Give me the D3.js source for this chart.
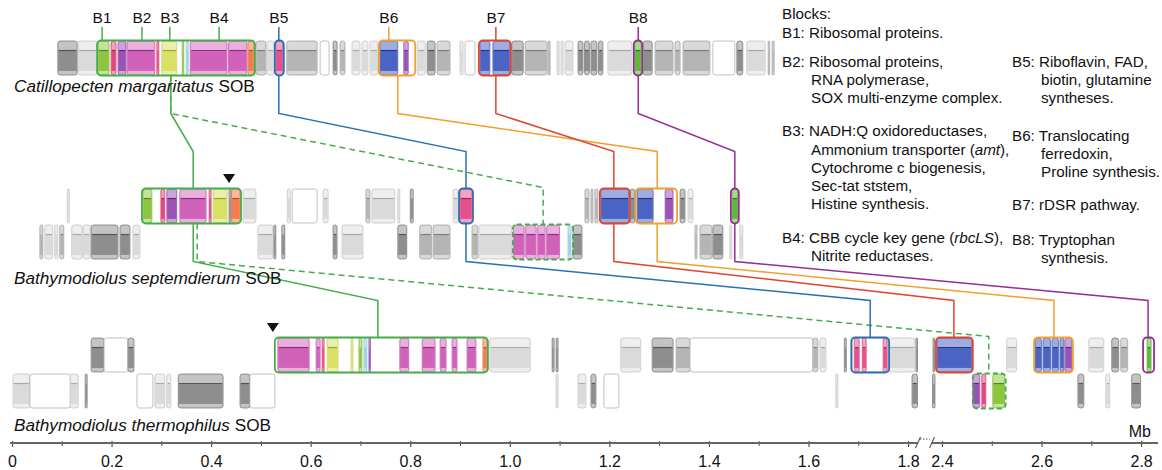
<!DOCTYPE html>
<html><head><meta charset="utf-8">
<script src="https://cdn.jsdelivr.net/npm/d3@7"></script>
<style>
body{margin:0;background:#fff;}
svg{display:block;font-family:"Liberation Sans",Arial,sans-serif;}
</style></head><body>
<svg id="c" width="1162" height="470"></svg>
<script>
// ---------------- DATA ----------------
const genomeItalic = ["Catillopecten margaritatus", "Bathymodiolus septemdierum", "Bathymodiolus thermophilus"];
const genomeSuffix = [" SOB", " SOB", " SOB"];

// [start Mb, end Mb, row (0 upper / 1 lower), colour key]
const blocksCM = [
 [0.092,0.131,0,"g1"],[0.133,0.171,0,"g3"],[0.173,0.195,0,"green"],[0.199,0.209,0,"red"],
 [0.213,0.229,0,"purple"],[0.231,0.287,0,"magenta"],[0.291,0.295,0,"red"],[0.301,0.331,0,"yellow"],
 [0.342,0.345,0,"green"],[0.350,0.354,0,"lblue"],[0.358,0.432,0,"magenta"],[0.435,0.472,0,"magenta"],
 [0.474,0.486,0,"orange"],[0.490,0.510,0,"g2"],[0.512,0.526,0,"g3"],[0.530,0.544,0,"pink"],
 [0.552,0.613,0,"g2"],[0.619,0.637,0,"w"],[0.645,0.653,0,"g1"],[0.659,0.669,0,"g2"],
 [0.683,0.699,0,"g3"],[0.703,0.715,0,"g3"],[0.719,0.735,0,"g3"],[0.739,0.775,0,"blue"],
 [0.787,0.796,0,"purple"],[0.814,0.830,0,"g3"],[0.834,0.850,0,"g1"],[0.854,0.880,0,"g2"],
 [0.900,0.906,0,"g3"],[0.910,0.930,0,"w"],[0.940,0.960,0,"blue"],[0.966,1.000,0,"blue"],
 [1.004,1.027,0,"g1"],[1.031,1.075,0,"g2"],[1.077,1.081,0,"g2"],[1.095,1.099,0,"g3"],
 [1.103,1.107,0,"g3"],[1.111,1.127,0,"g3"],[1.137,1.147,0,"g1"],[1.150,1.160,0,"g1"],
 [1.163,1.175,0,"g1"],[1.178,1.187,0,"g1"],[1.197,1.245,0,"g3"],[1.251,1.264,0,"green2"],
 [1.268,1.286,0,"g1"],[1.292,1.328,0,"g2"],[1.332,1.342,0,"g2"],[1.348,1.402,0,"g2"],
 [1.408,1.452,0,"w"],[1.456,1.468,0,"g1"],[1.476,1.513,0,"g3"],[1.519,1.522,0,"g2"],[1.527,1.531,0,"g2"]
];
const blocksBS = [
 [0.111,0.115,0,"g3"],[0.263,0.281,0,"green"],[0.299,0.307,0,"red"],[0.311,0.331,0,"purple"],
 [0.337,0.390,0,"magenta"],[0.396,0.400,0,"red"],[0.404,0.432,0,"yellow"],[0.436,0.440,0,"g1"],
 [0.441,0.458,0,"orange"],[0.464,0.490,0,"g3"],[0.553,0.559,0,"g3"],[0.563,0.613,0,"w"],
 [0.625,0.635,0,"g3"],[0.711,0.719,0,"g2"],[0.723,0.769,0,"g3"],[0.775,0.779,0,"g3"],
 [0.800,0.806,0,"g1"],[0.886,0.896,0,"g3"],[0.900,0.924,0,"pink"],[1.151,1.159,0,"g2"],
 [1.163,1.167,0,"g2"],[1.171,1.177,0,"g2"],[1.183,1.239,0,"blue"],[1.242,1.251,0,"g1"],
 [1.256,1.288,0,"blue"],[1.312,1.328,0,"purple"],[1.342,1.352,0,"g1"],[1.358,1.368,0,"g3"],
 [1.446,1.458,0,"green2"],
 [0.056,0.062,1,"g2"],[0.066,0.082,1,"g3"],[0.086,0.092,1,"g3"],[0.096,0.104,1,"g2"],
 [0.120,0.141,1,"g3"],[0.143,0.157,1,"g3"],[0.159,0.213,1,"g1"],[0.217,0.237,1,"g1"],
 [0.243,0.257,1,"g3"],[0.494,0.524,1,"g3"],[0.526,0.530,1,"g1"],[0.542,0.548,1,"g1"],
 [0.645,0.653,1,"g1"],[0.663,0.705,1,"g3"],[0.775,0.793,1,"g1"],[0.819,0.843,1,"g2"],
 [0.846,0.880,1,"g2"],[0.924,0.936,1,"g2"],[0.938,1.004,1,"g3"],[1.007,1.029,1,"magenta"],
 [1.032,1.053,1,"magenta"],[1.056,1.071,1,"magenta"],[1.074,1.100,1,"magenta"],[1.117,1.123,1,"lblue"],
 [1.127,1.145,1,"g1"],[1.372,1.376,1,"g2"],[1.382,1.406,1,"g2"],[1.408,1.428,1,"g1"],
 [1.442,1.446,1,"g3"],[1.462,1.468,1,"g3"]
];
const blocksBT = [
 [0.159,0.185,0,"g1"],[0.185,0.233,0,"w"],[0.233,0.245,0,"g1"],[0.534,0.597,0,"magenta"],
 [0.611,0.619,0,"magenta"],[0.623,0.627,0,"red"],[0.633,0.655,0,"yellow"],[0.681,0.685,0,"yellow"],
 [0.697,0.703,0,"green"],[0.707,0.713,0,"lblue"],[0.717,0.720,0,"purple"],[0.779,0.797,0,"magenta"],
 [0.824,0.850,0,"magenta"],[0.860,0.872,0,"magenta"],[0.884,0.894,0,"magenta"],[0.914,0.932,0,"magenta"],
 [0.946,0.954,0,"orange"],[0.960,1.041,0,"g3"],[1.085,1.089,0,"g1"],[1.093,1.097,0,"g1"],
 [1.223,1.263,0,"g3"],[1.286,1.328,0,"g1"],[1.334,1.362,0,"g2"],[1.362,1.609,0,"w"],
 [1.609,1.619,0,"g2"],[1.623,1.635,0,"g3"],[1.672,1.676,0,"g1"],[1.688,1.760,0,"w"],
 [1.692,1.702,0,"pink"],[1.708,1.716,0,"pink"],[1.750,1.758,0,"pink"],[1.762,1.814,0,"g3"],
 [1.816,1.819,0,"g1"],[2.382,2.385,0,"g1"],[2.390,2.460,0,"blue"],[2.530,2.550,0,"g3"],
 [2.587,2.600,0,"blue"],[2.603,2.618,0,"blue"],[2.621,2.634,0,"blue"],[2.637,2.645,0,"blue"],
 [2.647,2.661,0,"purple"],[2.695,2.725,0,"g3"],[2.741,2.755,0,"g1"],[2.759,2.773,0,"g2"],
 [2.812,2.820,0,"green2"],
 [0.002,0.036,1,"g3"],[0.036,0.117,1,"w"],[0.117,0.133,1,"g3"],[0.147,0.151,1,"g1"],
 [0.251,0.283,1,"w"],[0.287,0.307,1,"g3"],[0.311,0.319,1,"g3"],[0.334,0.424,1,"g1"],
 [0.458,0.478,1,"g1"],[0.478,0.528,1,"w"],[1.093,1.097,1,"g3"],[1.137,1.153,1,"g3"],
 [1.163,1.173,1,"g1"],[1.189,1.219,1,"w"],[1.655,1.659,1,"g3"],[1.808,1.819,1,"g1"],
 [2.381,2.386,1,"g1"],[2.462,2.476,1,"purple"],[2.480,2.488,1,"red"],[2.502,2.526,1,"green"],
 [2.673,2.685,1,"g1"],[2.729,2.737,1,"g3"],[2.781,2.799,1,"g1"]
];

// highlighted block boxes: [start, end, row, colour, dashed]
const boxesCM = [[0.171,0.488,0,"green",false],[0.528,0.546,0,"blue",false],[0.737,0.810,0,"orange",false],[0.938,1.002,0,"red",false],[1.249,1.266,0,"purple",false]];
const boxesBS = [[0.261,0.460,0,"green",false],[0.898,0.926,0,"blue",false],[1.181,1.241,0,"red",false],[1.253,1.336,0,"orange",false],[1.444,1.460,0,"purple",false],[1.006,1.127,1,"green",true]];
const boxesBT = [[0.528,0.956,0,"green",false],[1.686,1.762,0,"blue",false],[2.388,2.462,0,"red",false],[2.585,2.663,0,"orange",false],[2.804,2.826,0,"purple",false],[2.462,2.528,1,"green",true]];

// links: [from genome, from Mb, from row, to Mb, to row, colour, dashed]
const links = [
 [0,0.319,0,0.364,0,"green",false],[0,0.319,0,1.067,1,"green",true],
 [0,0.536,0,0.912,0,"blue",false],[0,0.775,0,1.296,0,"orange",false],
 [0,0.972,0,1.209,0,"red",false],[0,1.258,0,1.452,0,"purple",false],
 [1,0.364,0,0.735,0,"green",false],[1,0.372,0,2.494,1,"green",true],
 [1,0.912,0,1.724,0,"blue",false],[1,1.296,0,2.625,0,"orange",false],
 [1,1.209,0,2.424,0,"red",false],[1,1.452,0,2.814,0,"purple",false]
];

const blockLabels = ["B1","B2","B3","B4","B5","B6","B7","B8"];
const blockLabelPos = [0.181,0.261,0.317,0.416,0.536,0.757,0.972,1.258];
const blockLabelColor = ["green","green","green","green","blue","orange","red","purple"];

const markers = [[1,0.436],[2,0.524]]; // genome, Mb

const majorTicks = [0,0.2,0.4,0.6,0.8,1.0,1.2,1.4,1.6,1.8,2.4,2.6,2.8];
const minorTicks = [0.1,0.3,0.5,0.7,0.9,1.1,1.3,1.5,1.7,2.5,2.7];

const legendLeft = [
 ["Blocks:",0],["B1: Ribosomal proteins.",0],["B2: Ribosomal proteins,",0],["RNA polymerase,",1],
 ["SOX multi-enzyme complex.",1],["B3: NADH:Q oxidoreductases,",0],["Ammonium transporter (*amt*),",1],
 ["Cytochrome c biogenesis,",1],["Sec-tat ststem,",1],["Histine synthesis.",1],
 ["B4: CBB cycle key gene (*rbcLS*),",0],["Nitrite reductases.",1]
];
const legendLeftY = [19,38,67,85,103,136,155,173,191,209,243,261];
const legendRight = [
 ["B5: Riboflavin, FAD,",0],["biotin, glutamine",1],["syntheses.",1],["B6: Translocating",0],
 ["ferredoxin,",1],["Proline synthesis.",1],["B7: rDSR pathway.",0],["B8: Tryptophan",0],["synthesis.",1]
];
const legendRightY = [67,85,103,141,159,177,210,245,263];

// ---------------- STYLE / LAYOUT ----------------
const pal = {
 g1:{main:"#8e8e8e",light:"#c4c4c4",dark:"#555",stroke:"#6f6f6f"},
 g2:{main:"#b4b4b4",light:"#d9d9d9",dark:"#7d7d7d",stroke:"#999"},
 g3:{main:"#dadada",light:"#eeeeee",dark:"#a9a9a9",stroke:"#bdbdbd"},
 w:{main:"#ffffff",light:"#ffffff",dark:"#cfcfcf",stroke:"#a8a8a8"},
 green:{main:"#8cc540",light:"#c3e29a",dark:"#4d8a1e",stroke:"#79b232"},
 green2:{main:"#5fb83a",light:"#a6da8c",dark:"#2c7a18",stroke:"#4aa030"},
 red:{main:"#e2477a",light:"#f0a0bb",dark:"#a0204a",stroke:"#c83464"},
 purple:{main:"#9a52b5",light:"#cba4da",dark:"#5e2a78",stroke:"#8440a0"},
 magenta:{main:"#d062b9",light:"#e9b0dd",dark:"#8e2f86",stroke:"#bb4ea5"},
 yellow:{main:"#d8e066",light:"#ebefad",dark:"#9ea534",stroke:"#c2ca50"},
 lblue:{main:"#9dd0e6",light:"#cbe7f2",dark:"#5f9fbf",stroke:"#84bdd6"},
 orange:{main:"#f07e50",light:"#f7b89c",dark:"#b54d26",stroke:"#dc6a3c"},
 pink:{main:"#e6508c",light:"#f2a3c3",dark:"#a3235a",stroke:"#cf3e78"},
 blue:{main:"#4b64c3",light:"#9eacdf",dark:"#26378a",stroke:"#3d54ae"}
};
const linkCol = {green:"#44ad4a",blue:"#2a70b4",orange:"#f2a02e",red:"#e0452f",purple:"#962c94"};
const rows = [[[41,75]],[[189,223],[225,259]],[[338,372],[374,408]]];
const nameY = [92,284,431];

const svg = d3.select("#c");
const x = d3.scaleLinear().domain([0,1.82,2.38,2.85]).range([12,918,932,1166]);

// ---------------- BLOCKS ----------------
function drawBlocks(gi, data){
  const grp = svg.append("g");
  data.forEach(([s,e,r,k])=>{
    const [y0,y1] = rows[gi][r];
    const x0 = x(s), w = Math.max(x(e)-x0,1.3), h = y1-y0, c = pal[k];
    grp.append("rect").attr("x",x0).attr("y",y0).attr("width",w).attr("height",h)
      .attr("rx",Math.min(2.5,w/2)).attr("fill",c.light).attr("stroke",c.stroke).attr("stroke-width",0.7);
    if(k!=="w"){
      grp.append("rect").attr("x",x0+0.35).attr("y",y0+h*0.28).attr("width",Math.max(w-0.7,0.6))
        .attr("height",h*0.6).attr("fill",c.main);
      if(w>3) grp.append("line").attr("x1",x0+0.8).attr("x2",x0+w-0.8)
        .attr("y1",y0+h*0.28).attr("y2",y0+h*0.28).attr("stroke",c.dark).attr("stroke-width",1.2);
    }
  });
}
drawBlocks(0,blocksCM); drawBlocks(1,blocksBS); drawBlocks(2,blocksBT);

// ---------------- BOXES ----------------
function drawBoxes(gi, data){
  data.forEach(([s,e,r,col,dash])=>{
    const [y0,y1] = rows[gi][r];
    svg.append("rect").attr("x",x(s)).attr("y",y0-0.5).attr("width",x(e)-x(s)).attr("height",y1-y0+1)
      .attr("rx",4).attr("fill","none").attr("stroke",linkCol[col]).attr("stroke-width",1.8)
      .attr("stroke-dasharray",dash?"5,3":null);
  });
}
drawBoxes(0,boxesCM); drawBoxes(1,boxesBS); drawBoxes(2,boxesBT);

// ---------------- LINKS ----------------
links.forEach(([gi,a,ra,b,rb,col,dash])=>{
  const yA = rows[gi][ra][1] + 0.5, yB = rows[gi+1][rb][0] - 0.5;
  const xa = x(a), xb = x(b);
  const p = d3.path();
  p.moveTo(xa,yA); p.lineTo(xa,yA+38); p.lineTo(xb,yB-37); p.lineTo(xb,yB);
  svg.append("path").attr("d",p.toString()).attr("fill","none").attr("stroke",linkCol[col])
    .attr("stroke-width",1.5).attr("stroke-dasharray",dash?"6,4":null);
});

// ---------------- BLOCK LABELS ----------------
blockLabels.forEach((t,i)=>{
  const xx = x(blockLabelPos[i]);
  svg.append("line").attr("x1",xx).attr("x2",xx).attr("y1",27).attr("y2",40.5)
    .attr("stroke",linkCol[blockLabelColor[i]]).attr("stroke-width",1.5);
  svg.append("text").attr("x",xx).attr("y",23).attr("text-anchor","middle")
    .attr("font-size",15.5).attr("fill","#111").text(t);
});

// markers
markers.forEach(([gi,m])=>{
  const xx = x(m), yb = rows[gi][0][0]-6;
  svg.append("path").attr("d",`M${xx-6},${yb-9}L${xx+6},${yb-9}L${xx},${yb}Z`).attr("fill","#111");
});

// genome names
genomeItalic.forEach((n,i)=>{
  const t = svg.append("text").attr("x",14).attr("y",nameY[i]).attr("font-size",17.2).attr("fill","#111");
  t.append("tspan").attr("font-style","italic").text(n);
  t.append("tspan").text(genomeSuffix[i]);
});

// ---------------- LEGEND ----------------
function legendLine(txt, xx, y){
  const t = svg.append("text").attr("x",xx).attr("y",y).attr("font-size",15.2).attr("fill","#111");
  txt.split("*").forEach((part,j)=>{ if(part) t.append("tspan").attr("font-style",j%2?"italic":null).text(part); });
}
legendLeft.forEach(([s,ind],i)=>legendLine(s, ind?811:782, legendLeftY[i]));
legendRight.forEach(([s,ind],i)=>legendLine(s, ind?1041:1012, legendRightY[i]));

// ---------------- AXIS ----------------
const axisY = 443;
const axMajor = d3.axisBottom(x).tickValues(majorTicks).tickFormat(d=>d===0?"0":d.toFixed(1))
  .tickSize(6).tickPadding(9);
const gA = svg.append("g").attr("transform",`translate(0,${axisY-2})`).call(axMajor);
gA.select(".domain").remove();
gA.selectAll(".tick line").attr("stroke","#555").attr("stroke-width",1.2);
gA.selectAll(".tick text").attr("font-size",16).attr("fill","#111").attr("font-family","Liberation Sans, Arial, sans-serif");
const gM = svg.append("g").attr("transform",`translate(0,${axisY-2})`)
  .call(d3.axisBottom(x).tickValues(minorTicks).tickFormat("").tickSize(5));
gM.select(".domain").remove();
gM.selectAll(".tick line").attr("stroke","#555").attr("stroke-width",1);

svg.append("line").attr("x1",x(0)-2).attr("x2",x(1.82)).attr("y1",axisY).attr("y2",axisY).attr("stroke","#666").attr("stroke-width",2.2);
svg.append("line").attr("x1",x(2.38)).attr("x2",x(2.834)).attr("y1",axisY).attr("y2",axisY).attr("stroke","#666").attr("stroke-width",2.2);
[1.82,2.38].forEach(v=>{
  svg.append("line").attr("x1",x(v)-2.5).attr("x2",x(v)+2.5).attr("y1",axisY+5).attr("y2",axisY-6)
    .attr("stroke","#555").attr("stroke-width",1.1);
});
svg.append("line").attr("x1",x(1.82)+2).attr("x2",x(2.38)-2).attr("y1",axisY-4).attr("y2",axisY-4)
  .attr("stroke","#555").attr("stroke-width",1).attr("stroke-dasharray","1.5,1.5");
svg.append("text").attr("x",1151).attr("y",437).attr("text-anchor","end").attr("font-size",16).attr("fill","#111").text("Mb");
</script>
</body></html>
